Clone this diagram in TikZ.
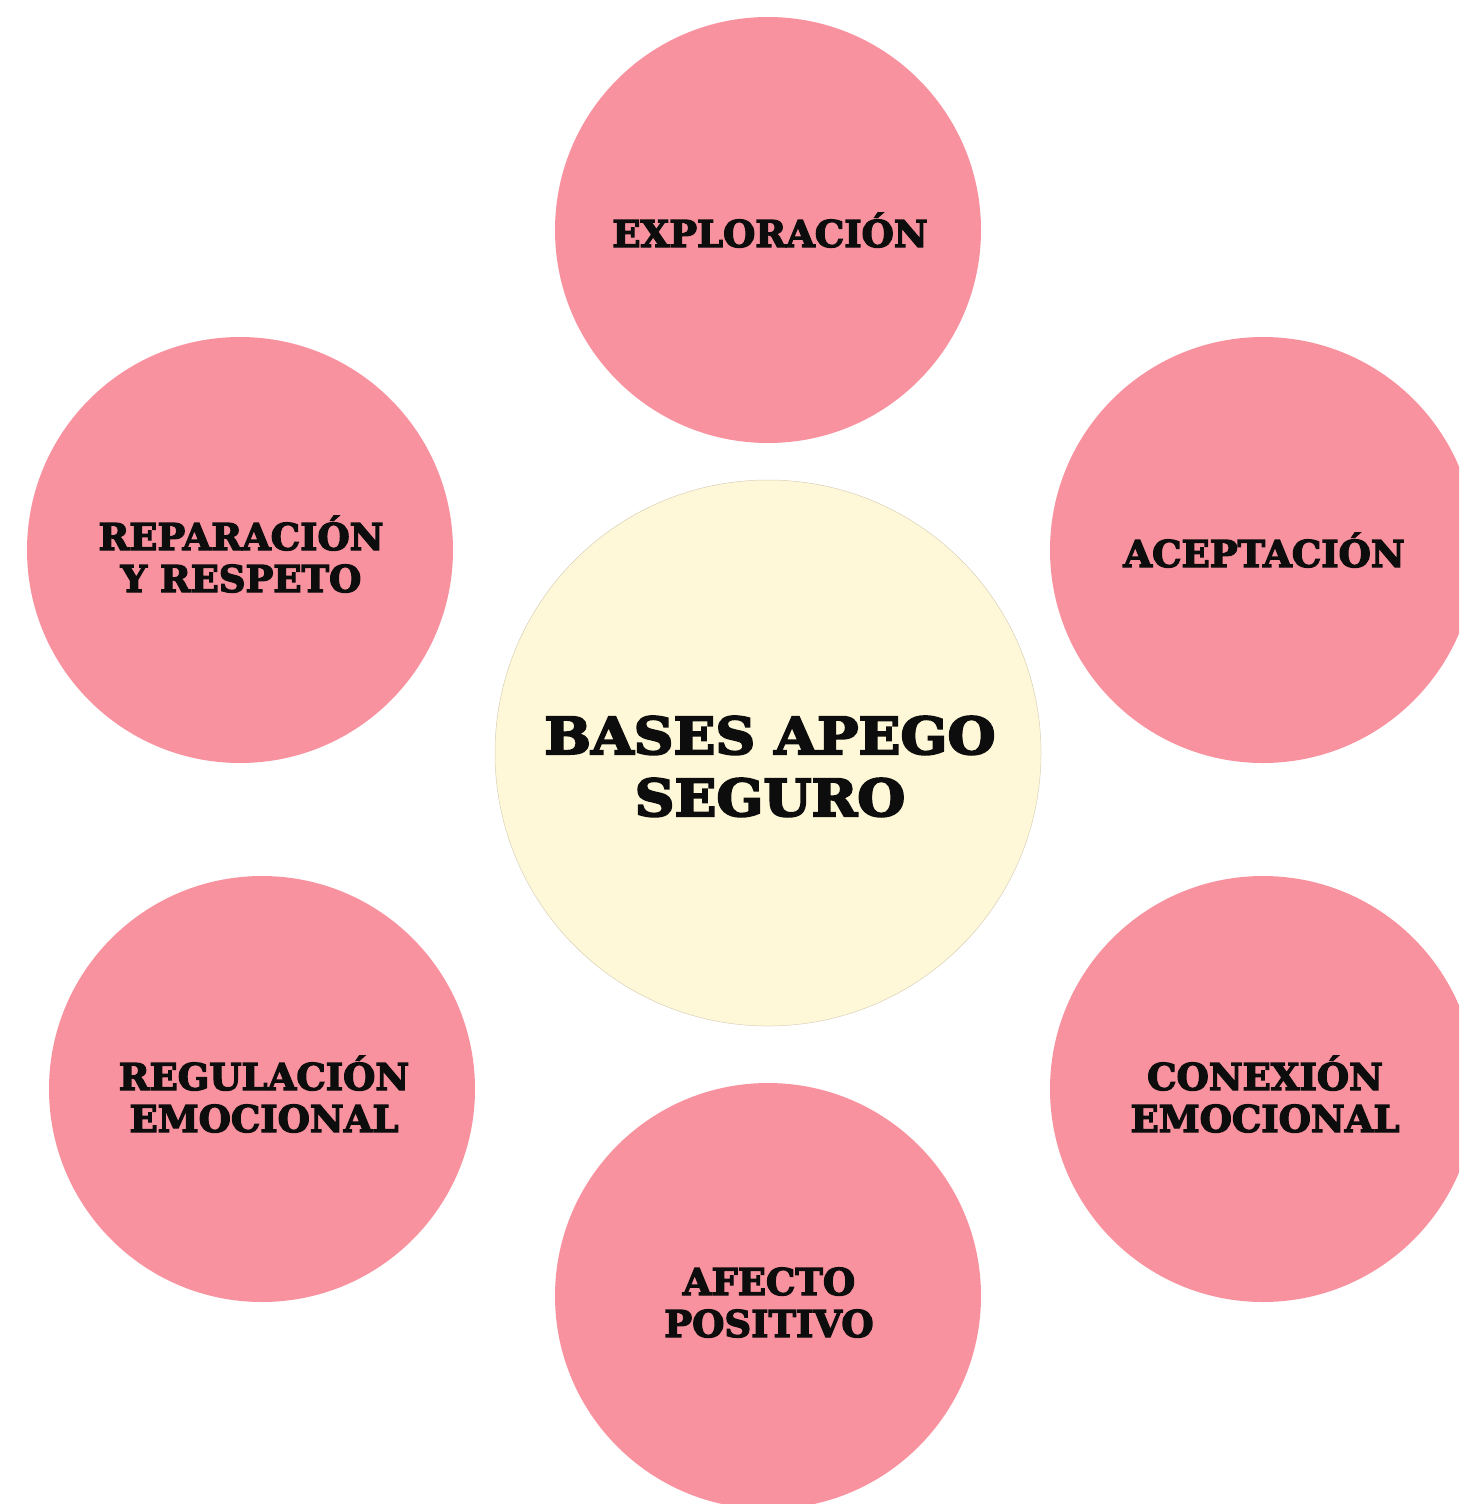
\documentclass[tikz,border=0pt]{standalone}
\usepackage{fontspec}
% heavy display serif for the labels
\newfontfamily\labfont[FakeStretch=1.0,FakeBold=3.5]{DejaVu Serif Bold}
\newfontfamily\hubfont[FakeStretch=1.08,FakeBold=4]{DejaVu Serif Bold}
\definecolor{petal}{HTML}{F8929F}
\definecolor{core}{HTML}{FEF8D9}
\definecolor{coreline}{HTML}{D8D0B8}
\begin{document}
\begin{tikzpicture}[x=1pt,y=-1pt,
  petal/.style={circle,fill=petal,draw=none,inner sep=0pt,minimum size=426pt},
  hub/.style={circle,fill=core,draw=coreline,line width=0.5pt,inner sep=0pt,minimum size=546pt},
  small/.style={anchor=base,align=center,text=black!95,
    font=\labfont\fontsize{37}{42}\selectfont},
  big/.style={anchor=base,align=center,text=black!95,
    font=\hubfont\fontsize{51}{62}\selectfont}]
\useasboundingbox (0,0) rectangle (1459,1504);
\clip (0,0) rectangle (1459,1504);
% outer circles
\node[petal] (explo) at (768,230) {};
\node[petal] (repar) at (240,550) {};
\node[petal] (acept) at (1263,550) {};
\node[petal] (regul) at (262,1089) {};
\node[petal] (conex) at (1263,1089) {};
\node[petal] (afect) at (768,1296) {};
% central circle
\node[hub] (bases) at (768,753) {};
% labels (anchored at the baseline of their last line)
\node[small] (tExplo) at (770,247) {EXPLORACIÓN};
\node[small] (tRepar) at (241,592) {REPARACIÓN\\Y RESPETO};
\node[small] (tAcept) at (1264,567) {ACEPTACIÓN};
\node[small] (tRegul) at (264,1132) {REGULACIÓN\\EMOCIONAL};
\node[small] (tConex) at (1265,1132) {CONEXIÓN\\EMOCIONAL};
\node[small] (tAfect) at (769,1337) {AFECTO\\POSITIVO};
\node[big] (tBases) at (770,816) {BASES APEGO\\SEGURO};
\end{tikzpicture}
\end{document}
